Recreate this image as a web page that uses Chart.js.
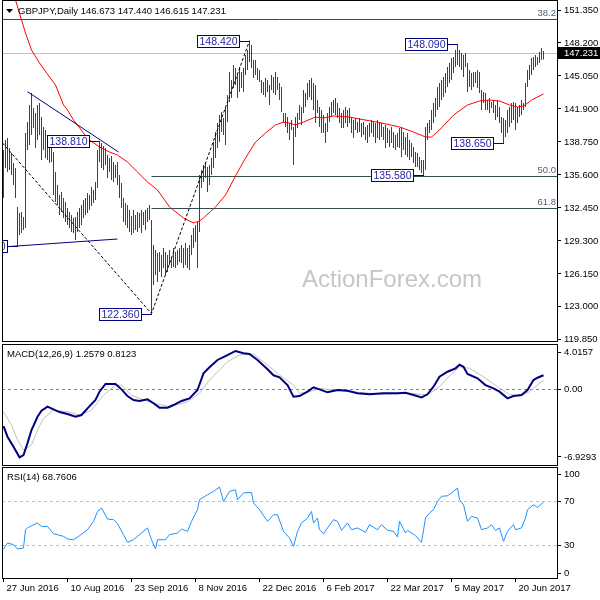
<!DOCTYPE html>
<html>
<head>
<meta charset="utf-8">
<script src="https://cdn.jsdelivr.net/npm/chart.js@4.4.1/dist/chart.umd.min.js"></script>
<style>
  html, body { margin: 0; padding: 0; background: #fff; }
  #wrap { position: relative; width: 600px; height: 600px; }
  canvas { position: absolute; left: 0; }
</style>
</head>
<body>
<div id="wrap">
  <canvas id="price" width="600" height="343" style="top:0"></canvas>
  <canvas id="macd" width="600" height="123" style="top:343px"></canvas>
  <canvas id="rsi" width="600" height="134" style="top:466px"></canvas>
</div>
<script>
/* ---------- data ---------- */
const symbolName = "GBPJPY,Daily";
const lastOHLC = [146.673, 147.440, 146.615, 147.231];

// daily bars, 27 Jun 2016 .. early Jul 2017
const highs = [
  137.98, 138.93, 139.12, 138.17, 137.69, 136.74, 136.26, 132.54, 131.96, 132.06,
  131.58, 139.60, 140.65, 142.28, 143.42, 141.99, 141.51, 142.28, 142.47, 141.13,
  140.18, 139.89, 139.41, 138.93, 139.41, 137.79, 135.88, 134.64, 133.68, 133.97,
  133.39, 133.01, 132.44, 132.06, 131.77, 131.49, 131.58, 132.06, 132.44, 132.73,
  133.20, 133.39, 133.87, 133.68, 134.45, 134.16, 134.92, 137.98, 138.81, 138.65,
  138.36, 138.17, 137.50, 137.21, 137.40, 136.83, 136.55, 136.83, 135.59, 134.83,
  133.39, 132.92, 132.73, 132.25, 131.68, 132.25, 131.77, 132.06, 131.96, 132.25,
  132.06, 132.25, 132.44, 132.73, 131.30, 128.91, 128.43, 128.14, 128.24, 127.95,
  128.62, 128.24, 127.95, 128.43, 127.76, 128.62, 128.24, 128.43, 128.62, 128.91,
  128.62, 129.10, 128.62, 128.91, 129.86, 130.53, 130.82, 131.10, 135.59, 136.07,
  136.55, 136.83, 136.35, 136.55, 137.21, 138.74, 139.70, 140.56, 141.32, 141.61,
  141.04, 141.99, 143.23, 145.43, 144.66, 146.10, 145.81, 145.14, 145.91, 145.43,
  145.81, 147.05, 147.53, 148.42, 148.01, 146.57, 146.57, 145.81, 145.62, 144.66,
  144.47, 144.86, 144.66, 144.19, 145.14, 144.95, 145.43, 144.95, 144.38, 143.99,
  141.51, 141.51, 141.13, 140.56, 140.84, 140.18, 141.13, 141.51, 142.28, 142.09,
  143.71, 143.42, 144.38, 144.66, 144.86, 144.38, 144.19, 142.75, 142.09, 141.80,
  141.32, 140.56, 141.51, 142.09, 142.56, 142.75, 142.95, 142.47, 141.99, 141.51,
  141.80, 142.09, 141.80, 141.99, 141.04, 140.84, 141.04, 140.65, 141.04, 140.56,
  140.65, 140.18, 140.37, 140.56, 140.84, 140.65, 140.56, 140.84, 140.65, 140.56,
  140.18, 140.37, 140.08, 139.89, 140.18, 139.70, 139.41, 139.60, 140.08, 140.18,
  139.70, 139.22, 139.60, 138.93, 138.65, 138.27, 137.79, 137.69, 137.31, 137.02,
  137.02, 140.18, 140.56, 140.84, 141.80, 142.47, 142.95, 143.99, 144.38, 144.66,
  144.95, 145.33, 145.91, 146.29, 146.77, 146.86, 147.53, 148.09, 147.53, 147.24,
  147.05, 147.24, 146.29, 145.62, 145.33, 145.43, 145.43, 145.62, 145.43, 143.71,
  143.52, 143.42, 142.75, 142.95, 142.56, 142.75, 142.28, 142.75, 142.09, 141.13,
  141.04, 140.84, 141.80, 142.09, 142.47, 142.56, 142.47, 142.09, 142.28, 142.75,
  142.47, 144.38, 145.62, 146.10, 146.77, 146.86, 147.05, 146.86, 147.34, 147.72,
  147.44
];
const lows = [
  133.39, 136.26, 135.88, 136.07, 135.59, 134.64, 133.39, 128.80, 129.86, 130.05,
  130.34, 130.53, 137.98, 138.46, 139.41, 140.08, 138.17, 138.93, 139.41, 137.02,
  137.98, 137.21, 137.02, 136.74, 136.83, 133.68, 133.01, 132.73, 131.77, 132.06,
  131.49, 131.10, 130.82, 130.53, 130.15, 130.05, 129.38, 130.15, 130.53, 130.82,
  131.49, 131.77, 131.96, 132.25, 132.63, 132.92, 133.20, 134.35, 136.83, 136.26,
  136.07, 136.55, 135.31, 135.88, 135.11, 134.92, 135.31, 134.64, 133.39, 132.44,
  131.10, 130.82, 130.53, 130.15, 129.86, 130.05, 130.34, 130.15, 130.53, 130.05,
  130.82, 130.34, 131.10, 131.29, 122.36, 125.09, 126.04, 125.37, 126.33, 125.85,
  126.71, 126.04, 126.33, 127.00, 126.71, 126.81, 126.71, 127.00, 127.28, 127.19,
  126.71, 127.00, 126.71, 126.52, 127.95, 128.62, 129.19, 126.71, 130.15, 134.35,
  134.92, 135.31, 133.97, 134.64, 135.59, 136.26, 137.21, 138.17, 138.74, 139.70,
  139.41, 138.46, 140.65, 142.56, 142.95, 143.90, 144.19, 142.95, 143.52, 143.90,
  143.52, 145.14, 145.62, 146.38, 145.81, 144.86, 145.14, 144.66, 144.47, 143.42,
  143.23, 143.04, 143.52, 142.28, 143.71, 143.42, 143.23, 143.71, 142.75, 141.61,
  140.56, 140.18, 139.60, 138.93, 139.89, 136.55, 139.22, 140.08, 140.84, 140.37,
  141.51, 142.09, 142.75, 143.04, 142.75, 141.80, 140.56, 141.51, 140.18, 139.60,
  139.60, 138.65, 139.70, 140.65, 141.13, 141.51, 141.32, 141.04, 140.56, 140.08,
  140.08, 140.56, 140.18, 140.56, 139.60, 139.12, 139.89, 139.60, 139.70, 139.22,
  139.41, 138.93, 138.65, 139.22, 139.60, 139.22, 138.65, 139.12, 138.93, 139.22,
  138.93, 138.17, 138.65, 138.27, 138.65, 138.17, 137.98, 138.27, 138.17, 137.31,
  137.98, 137.50, 137.31, 137.02, 137.31, 136.74, 136.36, 136.36, 136.07, 135.78,
  135.58, 136.07, 138.93, 139.60, 139.89, 140.56, 141.13, 141.80, 142.09, 142.75,
  143.04, 143.42, 143.99, 144.38, 144.66, 145.33, 145.91, 146.10, 145.91, 145.62,
  144.95, 145.91, 143.52, 143.99, 143.71, 143.99, 144.38, 143.90, 143.42, 141.80,
  142.47, 141.80, 141.80, 141.51, 141.99, 141.51, 140.84, 141.13, 140.56, 139.60,
  138.65, 139.22, 139.60, 140.18, 140.56, 140.84, 139.89, 140.56, 141.13, 141.32,
  141.80, 142.09, 143.99, 144.66, 145.14, 145.62, 145.91, 146.10, 146.29, 146.57,
  146.615
];

// red moving average, read at sample bars
const maIdx = [5, 6, 11, 14, 18, 23, 26, 30, 32, 35, 37, 40, 43, 48, 53, 57, 62, 67, 72, 77,
  83, 90, 95, 98, 100, 106, 111, 116, 121, 126, 131, 136, 140, 143, 146, 150, 156, 160, 165, 173,
  178, 188, 198, 205, 211, 214, 218, 225, 232, 238, 243, 248, 253, 257, 260, 264, 270];
const maVal = [152.7, 152.3, 149.15, 147.53, 146.29, 144.95, 144.19, 142.28, 141.8, 140.84,
  140.37, 139.6, 138.93, 138.27, 137.79, 137.5, 136.83, 135.88, 134.92, 134.16,
  132.54, 131.49, 131.01, 131.2, 131.49, 132.54, 133.68, 135.5, 137.21, 138.74,
  139.6, 140.37, 140.65, 140.56, 140.37, 140.65, 141.13, 141.04, 141.23, 141.13,
  140.94, 140.6, 140.18, 139.7, 139.22, 139.22, 139.89, 141.32, 142.28, 142.66,
  142.75, 142.66, 142.28, 142.09, 142.18, 142.75, 143.33];

// MACD(12,26,9)
const macdIdx = [0, 2, 5, 8, 10, 12, 14, 17, 19, 22, 25, 28, 32, 36, 39, 42, 46, 48, 51, 56,
  59, 62, 65, 68, 72, 75, 78, 82, 85, 89, 93, 97, 100, 103, 107, 112, 116, 120, 123, 127,
  132, 135, 138, 142, 145, 148, 152, 155, 158, 162, 167, 172, 177, 183, 190, 197, 201, 205, 209, 212,
  215, 218, 222, 226, 228, 230, 232, 237, 241, 245, 248, 252, 255, 259, 262, 265, 267, 270];
const macdVal = [-3.38, -4.35, -5.26, -6.23, -6.02, -4.93, -3.74, -2.53, -1.98, -1.61,
  -1.85, -2.10, -2.28, -2.53, -2.37, -1.76, -1.00, -0.24, 0.46, 0.46,
  -0.03, -0.64, -1.00, -1.09, -0.94, -1.30, -1.70, -1.70, -1.46, -1.09,
  -0.85, -0.09, 1.43, 1.98, 2.65, 3.10, 3.47, 3.26, 3.19, 2.65,
  1.80, 1.25, 1.07, 0.36, -0.70, -0.64, -0.24, 0.16, -0.03, -0.30,
  -0.09, -0.15, -0.39, -0.48, -0.39, -0.39, -0.34, -0.55, -0.76, -0.48,
  0.21, 1.12, 1.58, 1.89, 2.22, 2.03, 1.37, 0.98, 0.36, 0.06,
  -0.24, -0.85, -0.64, -0.55, -0.09, 0.82, 1.03, 1.2579];
const signalIdx = [0, 4, 7, 10, 14, 17, 20, 25, 32, 38, 44, 50, 56, 59, 64, 70, 77, 83, 92, 98,
  103, 112, 118, 125, 132, 138, 145, 148, 153, 158, 165, 173, 190, 203, 212, 218, 223, 228, 233, 240,
  247, 253, 258, 263, 270];
const signalVal = [-2.07, -3.28, -4.65, -5.57, -5.10, -3.74, -2.67, -1.92, -2.07, -2.37,
  -1.92, -0.55, 0.36, 0.36, -0.55, -1.00, -1.37, -1.61, -1.16, -0.39,
  0.82, 2.49, 3.10, 3.19, 2.19, 1.28, 0.36, -0.39, -0.24, 0.06,
  -0.09, -0.24, -0.48, -0.39, -0.55, 0.21, 1.19, 2.03, 1.89, 1.12,
  0.21, -0.48, -0.64, -0.24, 0.8123];

// RSI(14)
const rsiIdx = [0, 2, 5, 7, 10, 11, 12, 14, 17, 19, 22, 25, 27, 30, 32, 35, 38, 42, 45, 47,
  49, 52, 55, 57, 60, 62, 65, 68, 72, 74, 76, 77, 81, 83, 87, 89, 92, 94, 97, 98,
  102, 105, 108, 110, 113, 116, 117, 120, 124, 125, 128, 132, 135, 137, 140, 143, 145, 147, 149, 152,
  154, 155, 157, 158, 160, 162, 165, 167, 169, 172, 174, 177, 181, 183, 187, 189, 192, 195, 197, 198,
  201, 202, 206, 209, 211, 213, 215, 217, 219, 222, 224, 227, 228, 230, 232, 234, 237, 239, 242, 244,
  246, 248, 250, 252, 255, 256, 259, 261, 262, 265, 267, 270];
const rsiVal = [26.4, 31.8, 30.3, 26.4, 27.3, 43.9, 45.5, 47.5, 50.0, 46.9, 46.9, 40.3, 39.4, 37.8, 35.5, 34.8, 38.5, 43.9, 51.5, 60.5,
  63.6, 53.6, 53.0, 49.4, 39.4, 32.4, 34.8, 39.4, 45.5, 34.8, 26.4, 34.8, 34.8, 39.4, 40.9, 44.5, 42.4, 51.5, 62.1, 71.2,
  75.7, 78.7, 82.7, 69.6, 78.7, 80.3, 71.2, 77.3, 77.8, 68.2, 62.1, 51.5, 57.5, 57.5, 42.4, 36.4, 28.7, 42.4, 50.0, 54.5,
  60.5, 50.0, 54.5, 43.9, 40.3, 45.5, 53.0, 51.5, 43.3, 50.0, 43.9, 45.5, 41.5, 48.5, 43.9, 48.5, 43.3, 42.4, 37.3, 51.5,
  40.9, 43.3, 38.5, 32.4, 54.5, 59.1, 62.1, 69.6, 74.2, 74.8, 77.3, 81.8, 71.2, 66.6, 51.5, 56.0, 54.5, 43.9, 45.5, 48.5,
  43.3, 45.5, 33.3, 42.4, 48.5, 43.9, 45.5, 54.5, 62.1, 66.6, 64.2, 68.7606];

// axes
const priceRange = [119.74, 152.21];
const priceTicks = [151.35, 148.2, 145.05, 141.9, 138.75, 135.6, 132.45, 129.3, 126.15, 123.0, 119.85];
const macdRange = [-6.9293, 4.0157];
const macdTickLabels = ["4.0157", "0.00", "-6.9293"];
const rsiLevels = [70, 30];
const rsiTickLabels = ["100", "70", "30", "0"];
const dateIdx = [0, 32, 64, 96, 128, 160, 192, 224, 256];
const dateLabels = ["27 Jun 2016", "10 Aug 2016", "23 Sep 2016", "8 Nov 2016", "22 Dec 2016",
  "6 Feb 2017", "22 Mar 2017", "5 May 2017", "20 Jun 2017"];

// drawn objects
const fibLevels = [150.46, 135.5, 132.41];
const fibNames = ["38.2", "50.0", "61.8"];
const fibStart = [-1, 74, 74];
const pivotIdx = [7, 48, 74, 123, 210, 227, 250];
const pivotHigh = [false, true, false, true, false, true, false];
const waveIdx = [-0.5, 74, 123];
const waveVal = [138.65, 122.36, 148.42];
const upperTrendIdx = [12, 57.5];
const upperTrendVal = [143.55, 137.79];
const lowerTrendIdx = [2, 57];
const lowerTrendVal = [128.75, 129.48];

/* ---------- shared look ---------- */
const FONT = '"Liberation Sans", Arial, sans-serif';
const AXIS_W = 43;
const X_MIN = -0.75, X_MAX = 276.75;   // 2px per bar
Chart.defaults.font.family = FONT;

function xAxis(show) {
    return {
        type: "linear", min: X_MIN, max: X_MAX, bounds: "data", offset: false, display: show,
        afterFit: s => {
            if (!show) return;
            s.height = 22; s.paddingLeft = 0; s.paddingRight = 0;
        },
        afterBuildTicks: s => { s.ticks = dateIdx.map(v => ({ value: v })); },
        grid: { drawOnChartArea: false, drawTicks: true, tickLength: 4, color: "#000", offset: false },
        border: { display: false },
        ticks: {
            color: "#000", font: { size: 9.5 }, padding: 1, align: "start", labelOffset: 3,
            maxRotation: 0, autoSkip: false, callback: (v, k) => dateLabels[k]
        }
    };
}

function yAxis(range, tickVals, fmt) {
    return {
        type: "linear", position: "right", min: range[0], max: range[1], bounds: "data", beginAtZero: false,
        afterFit: s => { s.width = AXIS_W; s.paddingTop = 0; s.paddingBottom = 0; },
        afterBuildTicks: s => { s.ticks = tickVals.map(v => ({ value: v })); },
        grid: { drawOnChartArea: false, drawTicks: true, tickLength: 4, color: "#000" },
        border: { display: false },
        ticks: { color: "#000", font: { size: 9.5 }, padding: 3, autoSkip: false, callback: fmt }
    };
}

function points(idx, val) {
    return idx.map((v, k) => ({ x: v, y: val[k] }));
}

function lineSet(data, color, width, order) {
    return {
        type: "line", data, borderColor: color, borderWidth: width, pointRadius: 0,
        tension: 0, fill: false, order
    };
}

function drawFrame(chart) {
    const { ctx, chartArea: a } = chart;
    ctx.save();
    ctx.strokeStyle = "#000";
    ctx.lineWidth = 1;
    ctx.strokeRect(a.left + 0.5, a.top - 0.5, a.right - a.left, a.bottom - a.top + 1);
    ctx.restore();
}

function clipArea(ctx, a) {
    ctx.beginPath();
    ctx.rect(a.left, a.top, a.right - a.left, a.bottom - a.top);
    ctx.clip();
}

function baseOptions(layoutPadding, scales) {
    return {
        responsive: false, maintainAspectRatio: false, animation: false, devicePixelRatio: 1,
        events: [],
        layout: { padding: layoutPadding },
        plugins: { legend: { display: false }, tooltip: { enabled: false } },
        scales
    };
}

/* ---------- price panel ---------- */
const pricePlugin = {
    id: "pricePlugin",
    beforeDatasetsDraw(chart) {
        const { ctx, chartArea: a, scales: { x, y } } = chart;
        ctx.save();
        clipArea(ctx, a);
        ctx.fillStyle = "#c6c6c6";
        ctx.font = "24px " + FONT;
        ctx.textAlign = "left";
        ctx.textBaseline = "alphabetic";
        ctx.fillText("ActionForex.com", 302, 287);

        ctx.lineWidth = 1;
        fibLevels.forEach((lv, k) => {
            const py = Math.round(y.getPixelForValue(lv)) + 0.5;
            const px0 = Math.max(a.left, x.getPixelForValue(fibStart[k]));
            ctx.strokeStyle = "#2f4f4f";
            ctx.beginPath();
            ctx.moveTo(px0, py);
            ctx.lineTo(a.right, py);
            ctx.stroke();
            ctx.fillStyle = "#4b6379";
            ctx.font = "9.5px " + FONT;
            ctx.textAlign = "right";
            ctx.textBaseline = "bottom";
            ctx.fillText(fibNames[k], a.right - 1, py - 1.5);
        });

        const cy = Math.round(y.getPixelForValue(lastOHLC[3])) + 0.5;
        ctx.strokeStyle = "#c0c0c0";
        ctx.beginPath();
        ctx.moveTo(a.left, cy);
        ctx.lineTo(a.right, cy);
        ctx.stroke();
        ctx.restore();
    },
    afterDatasetsDraw(chart) {
        const { ctx, chartArea: a, scales: { x, y } } = chart;
        ctx.save();
        clipArea(ctx, a);
        ctx.lineWidth = 1;
        const path = (idx, val, color, dash) => {
            ctx.strokeStyle = color;
            ctx.setLineDash(dash);
            ctx.beginPath();
            idx.forEach((v, k) => {
                const px = x.getPixelForValue(v), py = y.getPixelForValue(val[k]);
                if (k) ctx.lineTo(px, py); else ctx.moveTo(px, py);
            });
            ctx.stroke();
        };
        path(waveIdx, waveVal, "#000", [3, 2]);
        path(upperTrendIdx, upperTrendVal, "#000080", []);
        path(lowerTrendIdx, lowerTrendVal, "#000080", []);
        ctx.setLineDash([]);

        pivotIdx.forEach((i, k) => {
            const v = pivotHigh[k] ? highs[i] : lows[i];
            const px = Math.round(x.getPixelForValue(i));
            const py = Math.round(y.getPixelForValue(v));
            const w = 43, h = 13, right = px - 10, top = py - 6;
            ctx.strokeStyle = "#000080";
            ctx.beginPath();
            ctx.moveTo(right, py + 0.5);
            ctx.lineTo(px, py + 0.5);
            ctx.stroke();
            ctx.fillStyle = "#fff";
            ctx.fillRect(right - w, top, w, h);
            ctx.strokeRect(right - w + 0.5, top + 0.5, w - 1, h - 1);
            ctx.fillStyle = "#1f1fa6";
            ctx.font = "10.5px " + FONT;
            ctx.textAlign = "center";
            ctx.textBaseline = "middle";
            ctx.fillText(v.toFixed(3), right - w / 2, py + 1);
        });
        ctx.restore();
    },
    afterDraw(chart) {
        const { ctx, chartArea: a, scales: { y } } = chart;
        drawFrame(chart);
        ctx.save();
        ctx.fillStyle = "#000";
        ctx.beginPath();
        ctx.moveTo(6, 9);
        ctx.lineTo(13, 9);
        ctx.lineTo(9.5, 13);
        ctx.closePath();
        ctx.fill();
        ctx.font = "9.5px " + FONT;
        ctx.textAlign = "left";
        ctx.textBaseline = "middle";
        ctx.fillText(symbolName + " " + lastOHLC.map(v => v.toFixed(3)).join(" "), 18, 11);

        const cy = Math.round(y.getPixelForValue(lastOHLC[3]));
        ctx.fillRect(a.right, cy - 6, AXIS_W, 12);
        ctx.fillStyle = "#fff";
        ctx.fillText(lastOHLC[3].toFixed(3), a.right + 7, cy + 0.5);
        ctx.restore();
    }
};

new Chart(document.getElementById("price"), {
    type: "bar",
    data: {
        datasets: [
            {
                type: "bar",
                data: highs.map((h, i) => ({ x: i, y: [lows[i], h] })),
                backgroundColor: "#1b4d63",
                borderWidth: 0,
                barThickness: 1,
                inflateAmount: 0,
                grouped: false,
                order: 2
            },
            lineSet(points(maIdx, maVal), "#ff0000", 1, 1)
        ]
    },
    options: baseOptions({ top: 1, bottom: 2, left: 2, right: 0 }, {
        x: xAxis(false),
        y: yAxis(priceRange, priceTicks, v => v.toFixed(3))
    }),
    plugins: [pricePlugin]
});

/* ---------- MACD panel ---------- */
const macdPlugin = {
    id: "macdPlugin",
    beforeDatasetsDraw(chart) {
        const { ctx, chartArea: a, scales: { y } } = chart;
        const py = Math.round(y.getPixelForValue(0)) + 0.5;
        ctx.save();
        ctx.strokeStyle = "#808080";
        ctx.lineWidth = 1;
        ctx.setLineDash([3, 3]);
        ctx.beginPath();
        ctx.moveTo(a.left, py);
        ctx.lineTo(a.right, py);
        ctx.stroke();
        ctx.restore();
    },
    afterDraw(chart) {
        const { ctx } = chart;
        drawFrame(chart);
        ctx.save();
        ctx.fillStyle = "#000";
        ctx.font = "9.5px " + FONT;
        ctx.textBaseline = "middle";
        ctx.fillText("MACD(12,26,9) " + macdVal[macdVal.length - 1].toFixed(4) + " " +
            signalVal[signalVal.length - 1].toFixed(4), 7, 11);
        ctx.restore();
    }
};

new Chart(document.getElementById("macd"), {
    type: "line",
    data: {
        datasets: [
            lineSet(points(macdIdx, macdVal), "#000080", 2, 0),
            lineSet(points(signalIdx, signalVal), "#c0c0c0", 1, 1)
        ]
    },
    options: baseOptions({ top: 2, bottom: 1, left: 2, right: 0 }, {
        x: xAxis(false),
        // top and bottom labels sit a few pixels inside the panel, as in the terminal
        y: yAxis(macdRange, [macdRange[1] - 0.64, 0, macdRange[0] + 0.73], (v, k) => macdTickLabels[k])
    }),
    plugins: [macdPlugin]
});

/* ---------- RSI panel ---------- */
const rsiPlugin = {
    id: "rsiPlugin",
    beforeDatasetsDraw(chart) {
        const { ctx, chartArea: a, scales: { y } } = chart;
        ctx.save();
        ctx.strokeStyle = "#c0c0c0";
        ctx.lineWidth = 1;
        ctx.setLineDash([3, 3]);
        rsiLevels.forEach(lv => {
            const py = Math.round(y.getPixelForValue(lv)) + 0.5;
            ctx.beginPath();
            ctx.moveTo(a.left, py);
            ctx.lineTo(a.right, py);
            ctx.stroke();
        });
        ctx.restore();
    },
    afterDraw(chart) {
        const { ctx } = chart;
        drawFrame(chart);
        ctx.save();
        ctx.fillStyle = "#000";
        ctx.font = "9.5px " + FONT;
        ctx.textBaseline = "middle";
        ctx.fillText("RSI(14) " + rsiVal[rsiVal.length - 1].toFixed(4), 7, 11);
        ctx.restore();
    }
};

new Chart(document.getElementById("rsi"), {
    type: "line",
    data: {
        datasets: [lineSet(points(rsiIdx, rsiVal), "#1e90ff", 1, 0)]
    },
    options: baseOptions({ top: 2, bottom: 0, left: 2, right: 0 }, {
        x: xAxis(true),
        y: yAxis([0, 100], [94.5, 70, 30, 4.5], (v, k) => rsiTickLabels[k])
    }),
    plugins: [rsiPlugin]
});
</script>
</body>
</html>
